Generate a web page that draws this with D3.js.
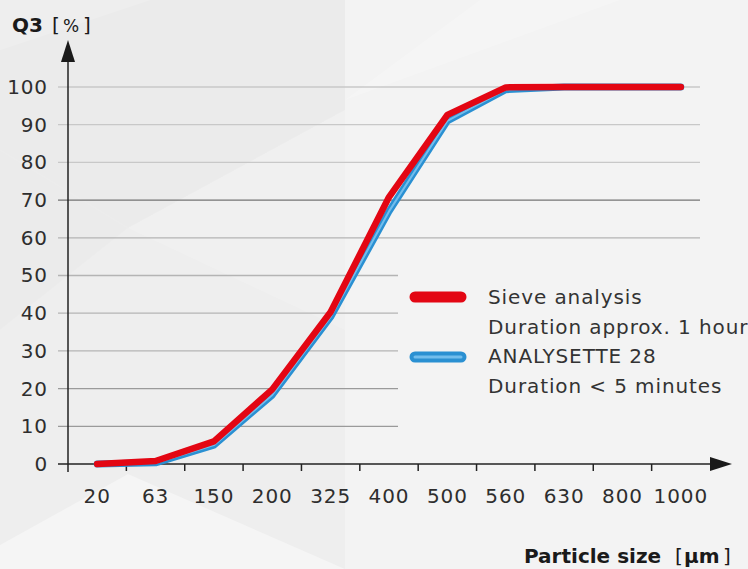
<!DOCTYPE html>
<meta charset="UTF-8">
<style>
  body { margin: 0; background: #efefef; }
  svg { display: block; }
</style>
<svg width="748" height="569"></svg>
<script src="https://cdn.jsdelivr.net/npm/d3@7"></script>
<script>

// particle size classes (µm) and cumulative passing Q3 (%)
var sizes = ["20", "63", "150", "200", "325", "400", "500", "560", "630", "800", "1000"];
var sieve = [0, 0.8, 6, 19.8, 40.3, 70.8, 92.6, 99.9, 100, 100, 100];
var analysette = [0, 0.3, 5, 18.3, 39, 67, 91, 99.3, 100, 100, 100];
var yTicks = [0, 10, 20, 30, 40, 50, 60, 70, 80, 90, 100];
var legendLines = ["Sieve analysis", "Duration approx. 1 hour", "ANALYSETTE 28", "Duration < 5 minutes"];

var svg = d3.select("svg"),
    width = +svg.attr("width"),
    height = +svg.attr("height");

var font = "'DejaVu Sans', sans-serif";

var x = d3.scaleBand().domain(sizes).range([68, 710]),
    y = d3.scaleLinear().domain([0, 100]).range([464, 87]);

// background, light grey with some faint facets
svg.append("rect").attr("width", width).attr("height", height).attr("fill", "#eeeeee");

var facets = [
  {p: [[345, 0], [748, 0], [748, 569], [345, 569]], c: "#fff", o: 0.3},
  {p: [[0, 545], [128, 474], [345, 569], [0, 569]], c: "#fff", o: 0.4},
  {p: [[0, 50], [150, 0], [345, 0], [345, 110], [128, 228], [0, 150]], c: "#000", o: 0.012},
  {p: [[0, 150], [128, 228], [0, 330]], c: "#000", o: 0.01},
  {p: [[128, 228], [345, 110], [345, 330]], c: "#fff", o: 0.15},
  {p: [[345, 100], [480, 0], [620, 0]], c: "#fff", o: 0.2}
];
svg.selectAll(".facet").data(facets).join("path")
    .attr("d", function(d) { return "M" + d.p.join("L") + "Z"; })
    .attr("fill", function(d) { return d.c; })
    .attr("fill-opacity", function(d) { return d.o; });

// grid lines
svg.append("g").selectAll("line")
  .data(yTicks.filter(function(d) { return d > 0; }))
  .join("line")
    .attr("x1", 58)
    .attr("x2", function(d) { return d <= 50 ? 398 : 700; })
    .attr("y1", function(d) { return y(d); })
    .attr("y2", function(d) { return y(d); })
    .attr("stroke", function(d) {
      return d === 70 ? "#555" : d <= 20 ? "#9a9a9a" : d <= 60 ? "#b4b4b4" : "#c8c8c8";
    })
    .attr("stroke-width", function(d) { return d === 70 ? 1 : 1.3; });

// y axis labels
var yAxis = svg.append("g")
    .attr("transform", "translate(68,0)")
    .call(d3.axisLeft(y).tickValues(yTicks).tickSize(0).tickPadding(20));
yAxis.select(".domain").remove();
yAxis.selectAll("text")
    .attr("font-family", font).attr("font-size", 20).attr("fill", "#2e2e2e")
    .attr("letter-spacing", 0.9);

// x axis labels
var xAxis = svg.append("g")
    .attr("transform", "translate(0,464)")
    .call(d3.axisBottom(x).tickSize(0).tickPadding(25));
xAxis.select(".domain").remove();
xAxis.selectAll("text")
    .attr("font-family", font).attr("font-size", 20).attr("fill", "#2e2e2e")
    .attr("letter-spacing", 0.9);

// x ticks between the classes
svg.append("g").selectAll("line")
  .data(sizes.slice(1, 11))
  .join("line")
    .attr("x1", function(d) { return x(d); })
    .attr("x2", function(d) { return x(d); })
    .attr("y1", 464).attr("y2", 471)
    .attr("stroke", "#222").attr("stroke-width", 1.5);

// axes with arrows
svg.append("line").attr("x1", 58).attr("x2", 716).attr("y1", 464).attr("y2", 464)
    .attr("stroke", "#222").attr("stroke-width", 1.5);
svg.append("line").attr("x1", 68).attr("x2", 68).attr("y1", 472).attr("y2", 56)
    .attr("stroke", "#222").attr("stroke-width", 1.5);
svg.append("path").attr("d", "M68,40L61,62L75,62Z").attr("fill", "#1a1a1a");
svg.append("path").attr("d", "M732,464L710,457L710,471Z").attr("fill", "#1a1a1a");

// curves
var line = d3.line()
    .x(function(d, i) { return x(sizes[i]) + x.bandwidth() / 2; })
    .y(function(d) { return y(d); });

svg.append("path").datum(analysette).attr("d", line)
    .attr("fill", "none").attr("stroke", "#2a90d2").attr("stroke-width", 7)
    .attr("stroke-linejoin", "round").attr("stroke-linecap", "round");
svg.append("path").datum(analysette).attr("d", line)
    .attr("fill", "none").attr("stroke", "#72bdec").attr("stroke-width", 2)
    .attr("stroke-linejoin", "round").attr("stroke-linecap", "round");
svg.append("path").datum(sieve).attr("d", line)
    .attr("fill", "none").attr("stroke", "#e30613").attr("stroke-width", 6.5)
    .attr("stroke-linejoin", "round").attr("stroke-linecap", "round");

// legend
var legend = svg.append("g");
legend.append("line").attr("x1", 415).attr("x2", 461).attr("y1", 297).attr("y2", 297)
    .attr("stroke", "#e30613").attr("stroke-width", 11).attr("stroke-linecap", "round");
legend.append("line").attr("x1", 415).attr("x2", 461).attr("y1", 357).attr("y2", 357)
    .attr("stroke", "#2a90d2").attr("stroke-width", 11).attr("stroke-linecap", "round");
legend.append("line").attr("x1", 415).attr("x2", 461).attr("y1", 357).attr("y2", 357)
    .attr("stroke", "#72bdec").attr("stroke-width", 3).attr("stroke-linecap", "round");
legend.selectAll("text").data(legendLines).join("text")
    .attr("x", 488)
    .attr("y", function(d, i) { return 304 + i * 29.5; })
    .attr("font-family", font).attr("font-size", 20).attr("fill", "#333")
    .attr("letter-spacing", 0.9)
    .text(function(d) { return d; });

// axis titles
var yTitle = svg.append("text").attr("x", 12).attr("y", 32)
    .attr("font-family", font).attr("font-size", 20).attr("fill", "#1a1a1a");
yTitle.append("tspan").attr("font-weight", "bold").text("Q3");
yTitle.append("tspan").attr("x", 52).text("[");
yTitle.append("tspan").attr("x", 63).attr("font-size", 17).text("%");
yTitle.append("tspan").attr("x", 83).text("]");

var xTitle = svg.append("text").attr("x", 524).attr("y", 563)
    .attr("font-family", font).attr("font-size", 20).attr("fill", "#1a1a1a");
xTitle.append("tspan").attr("font-weight", "bold").text("Particle size");
xTitle.append("tspan").attr("x", 675).text("[");
xTitle.append("tspan").attr("font-weight", "bold").attr("x", 684).text("µm");
xTitle.append("tspan").attr("x", 723).text("]");
</script>
